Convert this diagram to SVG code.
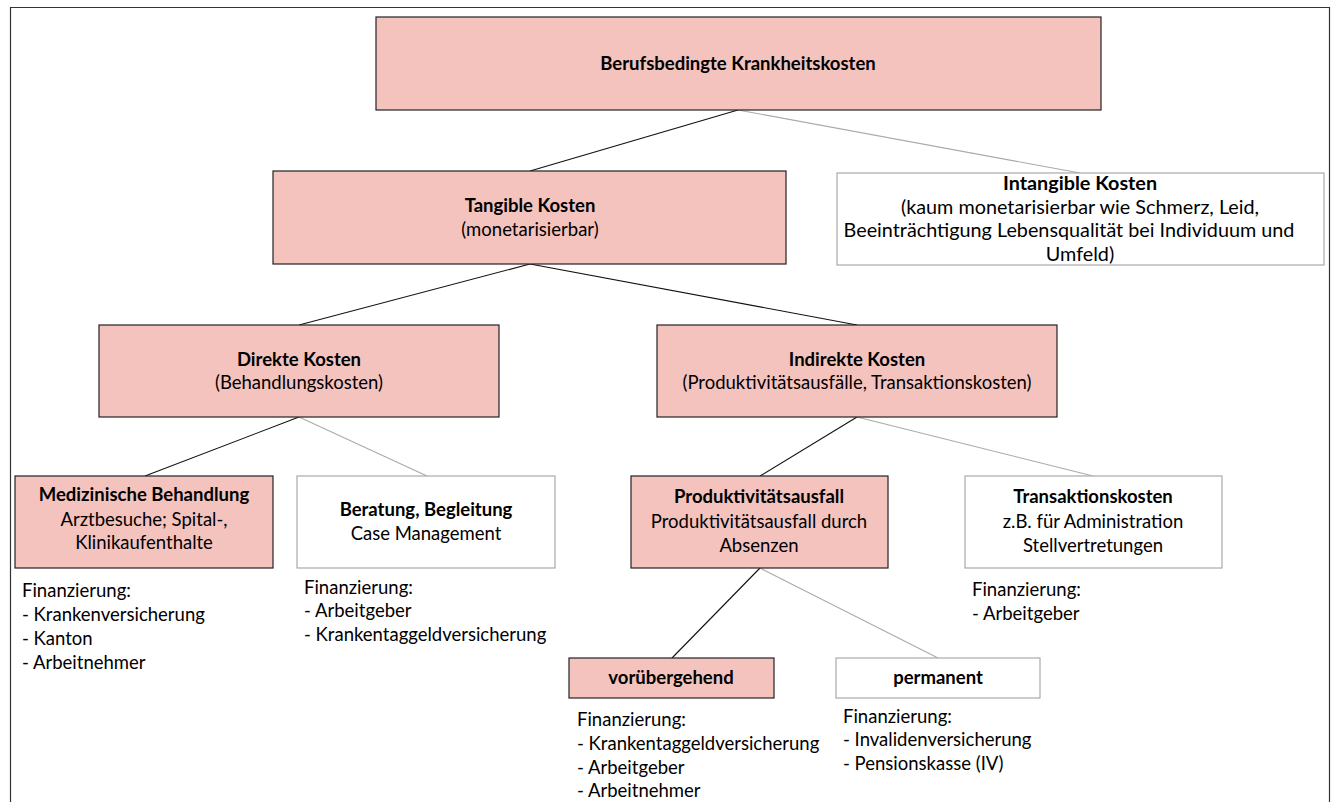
<svg xmlns="http://www.w3.org/2000/svg" width="1333" height="802" viewBox="0 0 1333 802">
<style>
text{font-family:Lato,"Open Sans","Liberation Sans",sans-serif;font-size:18.5px;fill:#000}
.c{text-anchor:middle}
.b{font-weight:bold}
.big{font-size:19.8px}
.pk{fill:#f4c3be;stroke:#222;stroke-width:1.2}
.wh{fill:#fff;stroke:#aaa;stroke-width:1.2}
.k{stroke:#111;stroke-width:1.1;fill:none}
.g{stroke:#aaa;stroke-width:1.1;fill:none}
</style>
<rect x="0" y="0" width="1333" height="802" fill="#fff"/>
<path d="M10.5 810 V7.5 H1329.5 V810" fill="none" stroke="#333" stroke-width="1.2"/>
<g id="connectors">
<line class="k" x1="738" y1="110" x2="530" y2="171"/>
<line class="g" x1="738" y1="110" x2="1080" y2="173"/>
<line class="k" x1="530" y1="264" x2="299" y2="325"/>
<line class="k" x1="530" y1="264" x2="857" y2="325"/>
<line class="k" x1="299" y1="417" x2="145" y2="476"/>
<line class="g" x1="299" y1="417" x2="427" y2="476"/>
<line class="k" x1="857" y1="417" x2="760" y2="476"/>
<line class="g" x1="857" y1="417" x2="1093" y2="476"/>
<line class="k" x1="760" y1="568" x2="672" y2="658"/>
<line class="g" x1="760" y1="568" x2="938" y2="658"/>
</g>
<g id="root">
<rect class="pk" x="376" y="17" width="725" height="93"/>
<text class="c b" x="738" y="70">Berufsbedingte Krankheitskosten</text>
</g>
<g id="tangible">
<rect class="pk" x="273" y="171" width="513" height="93"/>
<text class="c b" x="530" y="212">Tangible Kosten</text>
<text class="c" x="530" y="236">(monetarisierbar)</text>
</g>
<g id="intangible">
<rect class="wh" x="837" y="173" width="487" height="92"/>
<text class="c b big" x="1080" y="190">Intangible Kosten</text>
<text class="c big" x="1080" y="214">(kaum monetarisierbar wie Schmerz, Leid,</text>
<text class="c big" x="1069" y="237">Beeinträchtigung Lebensqualität bei Individuum und</text>
<text class="c big" x="1080" y="261">Umfeld)</text>
</g>
<g id="direkte">
<rect class="pk" x="99" y="325" width="400" height="92"/>
<text class="c b" x="299" y="366">Direkte Kosten</text>
<text class="c" x="299" y="389">(Behandlungskosten)</text>
</g>
<g id="indirekte">
<rect class="pk" x="657" y="325" width="400" height="92"/>
<text class="c b" x="857" y="366">Indirekte Kosten</text>
<text class="c" x="857" y="389">(Produktivitätsausfälle, Transaktionskosten)</text>
</g>
<g id="medizinische">
<rect class="pk" x="15" y="476" width="258" height="92"/>
<text class="c b" x="144" y="501">Medizinische Behandlung</text>
<text class="c" x="144" y="526">Arztbesuche; Spital-,</text>
<text class="c" x="144" y="549">Klinikaufenthalte</text>
<text x="22" y="597">Finanzierung:</text>
<text x="22" y="621">- Krankenversicherung</text>
<text x="22" y="645">- Kanton</text>
<text x="22" y="669">- Arbeitnehmer</text>
</g>
<g id="beratung">
<rect class="wh" x="297" y="476" width="258" height="92"/>
<text class="c b" x="426" y="516">Beratung, Begleitung</text>
<text class="c" x="426" y="540">Case Management</text>
<text x="304" y="594">Finanzierung:</text>
<text x="304" y="617">- Arbeitgeber</text>
<text x="304" y="641">- Krankentaggeldversicherung</text>
</g>
<g id="produktivitaet">
<rect class="pk" x="631" y="476" width="257" height="92"/>
<text class="c b" x="759" y="503">Produktivitätsausfall</text>
<text class="c" x="759" y="528">Produktivitätsausfall durch</text>
<text class="c" x="759" y="552">Absenzen</text>
</g>
<g id="transaktion">
<rect class="wh" x="965" y="476" width="257" height="92"/>
<text class="c b" x="1093" y="503">Transaktionskosten</text>
<text class="c" x="1093" y="528">z.B. für Administration</text>
<text class="c" x="1093" y="552">Stellvertretungen</text>
<text x="972" y="596">Finanzierung:</text>
<text x="972" y="620">- Arbeitgeber</text>
</g>
<g id="voruebergehend">
<rect class="pk" x="569" y="658" width="205" height="40"/>
<text class="c b" x="671" y="684">vorübergehend</text>
<text x="577" y="726">Finanzierung:</text>
<text x="577" y="750">- Krankentaggeldversicherung</text>
<text x="577" y="774">- Arbeitgeber</text>
<text x="577" y="797">- Arbeitnehmer</text>
</g>
<g id="permanent">
<rect class="wh" x="836" y="658" width="204" height="40"/>
<text class="c b" x="938" y="684">permanent</text>
<text x="843" y="723">Finanzierung:</text>
<text x="843" y="746">- Invalidenversicherung</text>
<text x="843" y="770">- Pensionskasse (IV)</text>
</g>
</svg>
